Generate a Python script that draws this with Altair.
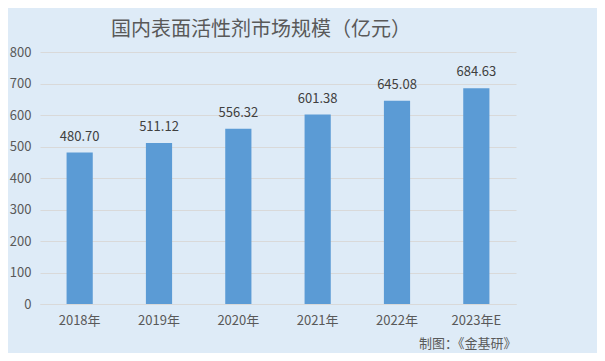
import altair as alt
import pandas as pd

years = ["2018年", "2019年", "2020年", "2021年", "2022年", "2023年E"]
values = [480.70, 511.12, 556.32, 601.38, 645.08, 684.63]
labels = ["480.70", "511.12", "556.32", "601.38", "645.08", "684.63"]

df = pd.DataFrame({"year": years, "value": values, "label": labels})
FONT = "Noto Sans CJK SC"

base = alt.Chart(df).encode(
    x=alt.X("year:N", sort=years,
            scale=alt.Scale(paddingInner=0.67, paddingOuter=0.335),
            axis=alt.Axis(title="制图：《金基研》", titleAnchor="end", titleAlign="right",
                          titleFontSize=13, titleFontWeight="normal", titleColor="#595959",
                          titleFont=FONT, titlePadding=10,
                          labelAngle=0, labelFontSize=13, labelColor="#595959", labelFont=FONT,
                          labelPadding=10, ticks=False, domainColor="#D9D9D9")),
    y=alt.Y("value:Q", scale=alt.Scale(domain=[0, 800]),
            axis=alt.Axis(title=None, values=list(range(0, 801, 100)), ticks=False, domain=False,
                          labelFontSize=13, labelColor="#595959", labelFont=FONT, labelPadding=9,
                          gridColor="#D9D9D9")),
)

bars = base.mark_bar(color="#5B9BD5")
text = base.mark_text(baseline="bottom", dy=-9, fontSize=13, color="#404040", font=FONT).encode(
    text="label:N")

chart = (bars + text).properties(
    width=476, height=252,
    autosize=alt.AutoSizeParams(type="none"),
    padding={"left": 32, "top": 44, "right": 81, "bottom": 49},
    background="#DEEBF7",
    title=alt.TitleParams("国内表面活性剂市场规模（亿元）", fontSize=20, font=FONT,
                          fontWeight="normal", color="#595959", anchor="middle", dx=-17, offset=6),
).configure_view(stroke=None)

chart.save("out.html", embed_options={"renderer": "svg", "actions": False})
